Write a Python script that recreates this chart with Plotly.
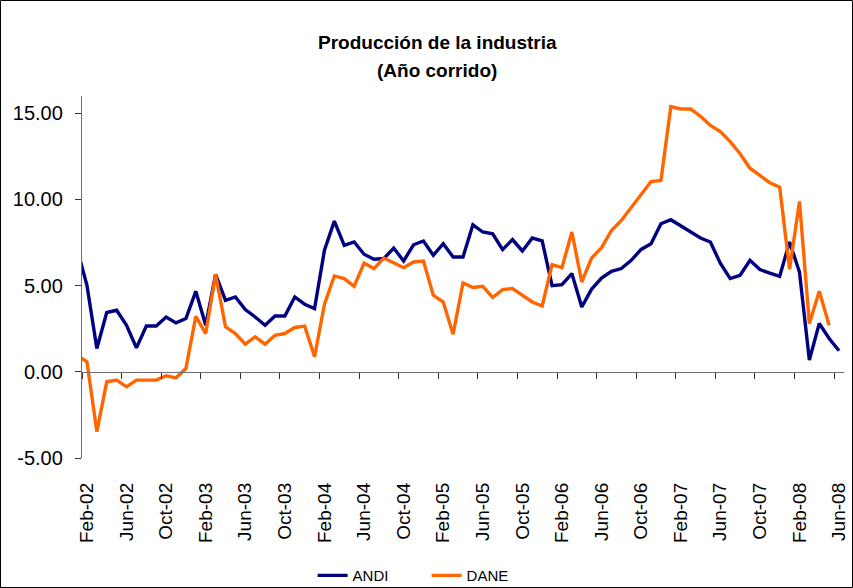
import plotly.graph_objects as go

# Monthly categories: Jan-02 (partly visible at the left edge) through Jun-08
month_abbr = ["Jan", "Feb", "Mar", "Apr", "May", "Jun", "Jul", "Aug", "Sep", "Oct", "Nov", "Dec"]
months = []
for yr in range(2, 9):
    for m in month_abbr:
        months.append(f"{m}-{yr:02d}")
months = months[: months.index("Jun-08") + 1]

tick_labels = ["Feb-02", "Jun-02", "Oct-02", "Feb-03", "Jun-03", "Oct-03", "Feb-04",
               "Jun-04", "Oct-04", "Feb-05", "Jun-05", "Oct-05", "Feb-06", "Jun-06",
               "Oct-06", "Feb-07", "Jun-07", "Oct-07", "Feb-08", "Jun-08"]

andi = [7.14, 5.02, 1.35, 3.44, 3.57, 2.70, 1.39, 2.66, 2.66, 3.18, 2.84, 3.09, 4.67,
        2.70, 5.66, 4.15, 4.34, 3.61, 3.18, 2.70, 3.24, 3.24, 4.34, 3.92, 3.67,
        7.05, 8.74, 7.34, 7.53, 6.82, 6.53, 6.57, 7.18, 6.43, 7.37, 7.59, 6.76,
        7.43, 6.66, 6.66, 8.53, 8.11, 8.01, 7.09, 7.67, 7.01, 7.76, 7.59, 5.00,
        5.06, 5.70, 3.76, 4.80, 5.44, 5.83, 5.99, 6.47, 7.10, 7.43, 8.59, 8.82,
        8.46, 8.11, 7.76, 7.53, 6.30, 5.41, 5.60, 6.47, 5.93, 5.73, 5.54, 7.53,
        5.79, 0.68, 2.80, 1.93, 1.22]

dane = [0.96, 0.58, -3.47, -0.58, -0.48, -0.87, -0.48, -0.48, -0.48, -0.23, -0.35, 0.19, 3.22,
        2.22, 5.66, 2.61, 2.22, 1.60, 2.03, 1.60, 2.12, 2.22, 2.57, 2.65, 0.87,
        3.92, 5.56, 5.41, 4.96, 6.31, 5.99, 6.60, 6.33, 6.04, 6.37, 6.43, 4.44,
        4.05, 2.18, 5.15, 4.89, 4.96, 4.31, 4.77, 4.83, 4.44, 4.05, 3.82, 6.22,
        6.04, 8.11, 5.21, 6.60, 7.20, 8.20, 8.78, 9.52, 10.33, 11.04, 11.10, 15.38,
        15.25, 15.25, 14.82, 14.29, 13.94, 13.35, 12.65, 11.81, 11.39, 10.97, 10.71, 5.95,
        9.88, 2.80, 4.67, 2.70, None]

y_ticks = [-5, 0, 5, 10, 15]
y_tick_text = ["-5.00", "0.00", "5.00", "10.00", "15.00"]

# numeric position of each month: Feb-02 = 0
first = months.index("Feb-02")
xpos = [i - first for i in range(len(months))]
label_pos = [months.index(t) - first for t in tick_labels]
boundary_pos = [p - 0.5 for p in label_pos]

FONT = "Liberation Sans, Arial, sans-serif"
AXIS_COLOR = "#6e6e6e"

fig = go.Figure()
fig.add_trace(go.Scatter(x=xpos, y=andi, name="ANDI", mode="lines",
                         line=dict(color="#000080", width=3.4)))
fig.add_trace(go.Scatter(x=xpos, y=dane, name="DANE", mode="lines",
                         line=dict(color="#FF6600", width=3.4)))
# invisible trace registering the zero-crossing axis
fig.add_trace(go.Scatter(x=[None], y=[None], xaxis="x2", showlegend=False,
                         hoverinfo="skip", mode="lines"))

xrange = [-0.5, xpos[-1] + 0.5]
yrange = [-5, 16]

fig.update_layout(
    width=853, height=588,
    margin=dict(l=82, r=9, t=96, b=130, autoexpand=False),
    paper_bgcolor="white", plot_bgcolor="white",
    font=dict(family=FONT, color="black"),
    showlegend=True,
    xaxis=dict(range=xrange, showgrid=False, zeroline=False, showline=False,
               tickmode="array", tickvals=label_pos, ticktext=tick_labels,
               tickangle=-90, ticks="", tickfont=dict(size=19, family=FONT),
               ticklabelstandoff=20, automargin=False),
    xaxis2=dict(range=xrange, overlaying="x", anchor="free",
                position=(0 - yrange[0]) / (yrange[1] - yrange[0]),
                showgrid=False, zeroline=False, showline=True,
                linecolor=AXIS_COLOR, linewidth=1.3,
                tickmode="array", tickvals=boundary_pos, ticks="outside",
                ticklen=6, tickcolor="#333333", tickwidth=1.3,
                showticklabels=False, side="bottom", automargin=False),
    yaxis=dict(range=yrange, showgrid=False, zeroline=False, showline=True,
               linecolor=AXIS_COLOR, linewidth=1.3,
               tickmode="array", tickvals=y_ticks, ticktext=y_tick_text,
               ticks="outside", ticklen=6, tickcolor="#333333", tickwidth=1.3,
               tickfont=dict(size=20, family=FONT), ticklabelstandoff=8,
               automargin=False),
    legend=dict(orientation="h", x=0.2974 + 4 / 762, xanchor="left", y=-0.325, yanchor="middle",
                font=dict(size=15, family=FONT),
                entrywidth=69, entrywidthmode="pixels", itemwidth=30,
                bgcolor="rgba(0,0,0,0)"),
    annotations=[
        dict(text="<b>Producción de la industria</b>", xref="paper", yref="paper",
             x=(437 - 82) / 762, y=(458 - 42) / 362, showarrow=False,
             xanchor="center", yanchor="middle", font=dict(size=19, family=FONT)),
        dict(text="<b>(Año corrido)</b>", xref="paper", yref="paper",
             x=(437 - 82) / 762, y=(458 - 70) / 362, showarrow=False,
             xanchor="center", yanchor="middle", font=dict(size=19, family=FONT)),
    ],
    shapes=[
        dict(type="rect", xref="paper", yref="paper",
             x0=(0.5 - 82) / 762, x1=(852.5 - 82) / 762,
             y0=(458 - 587.5) / 362, y1=(458 - 0.5) / 362,
             line=dict(color="black", width=1), fillcolor="rgba(0,0,0,0)", layer="below"),
    ],
)

fig.write_html("out.html",
               config={"displayModeBar": False},
               post_script="document.body.style.margin='0px';"
                           "document.body.style.overflow='hidden';")
